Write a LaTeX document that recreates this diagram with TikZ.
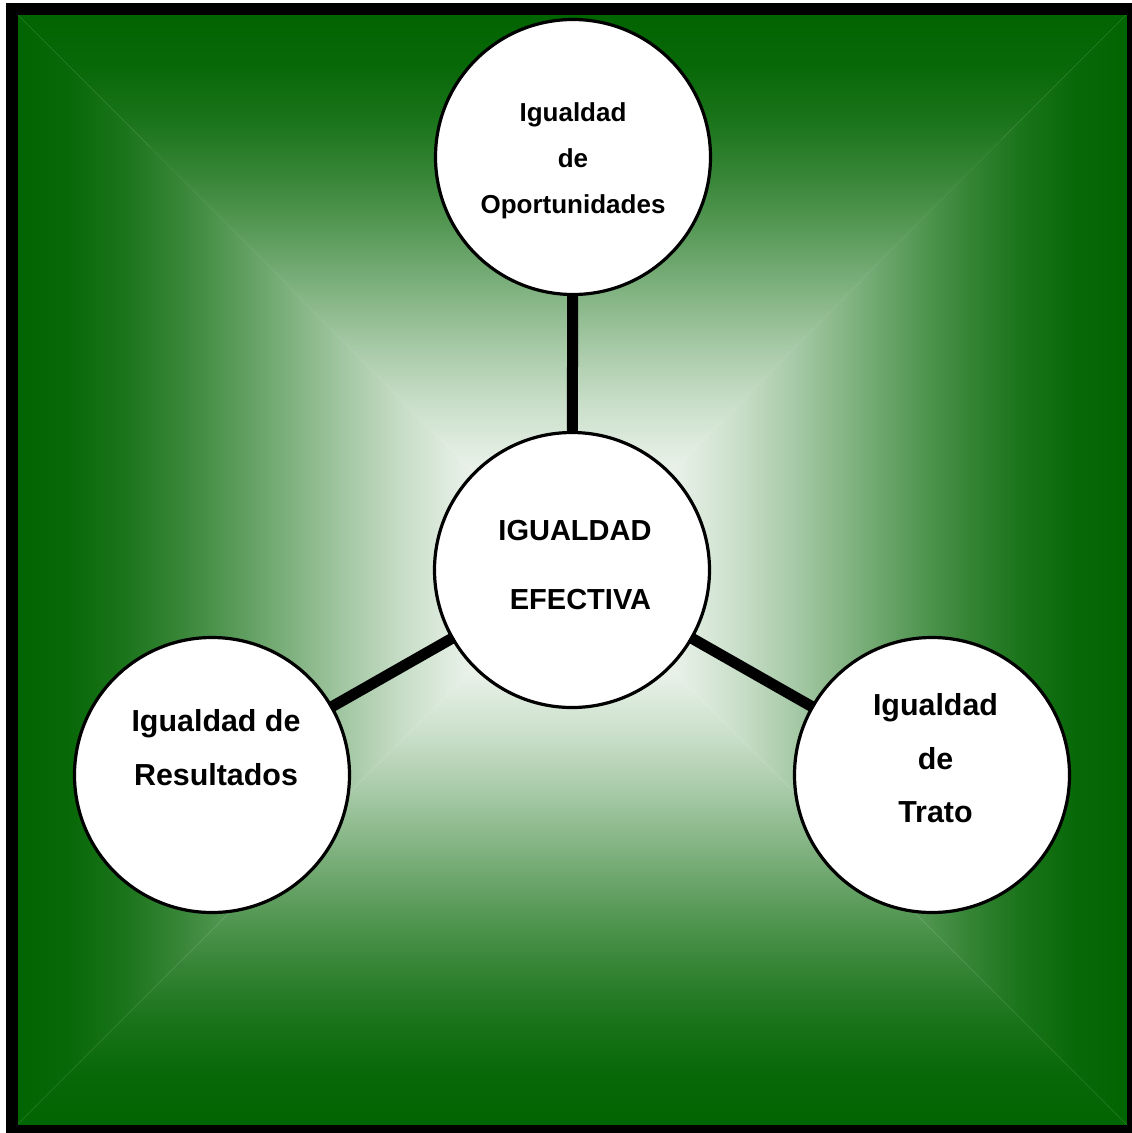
\documentclass[tikz,border=0pt]{standalone}
\usepackage{fontspec}
\setmainfont{Liberation Sans}
\definecolor{bgGreen}{RGB}{0,100,0}
% soft fade from white (bottom) to green (top)
\pgfdeclareverticalshading{bgfade}{100bp}{color(0bp)=(white); color(25bp)=(white);
  color(30bp)=(bgGreen!2.8!white); color(35bp)=(bgGreen!10.4!white);
  color(40bp)=(bgGreen!21.6!white); color(45bp)=(bgGreen!35.2!white);
  color(50bp)=(bgGreen!50!white); color(55bp)=(bgGreen!64.8!white);
  color(60bp)=(bgGreen!78.4!white); color(65bp)=(bgGreen!89.6!white);
  color(70bp)=(bgGreen!97.2!white); color(75bp)=(bgGreen); color(100bp)=(bgGreen)}

\begin{document}
\begin{tikzpicture}[x=1pt,y=-1pt,
  circ/.style={circle,draw=black,line width=3.2pt,fill=white,minimum size=275pt,inner sep=0pt},
  txt/.style={align=center},
  link/.style={line width=11pt,shorten <=-3pt,shorten >=-3pt}]
\useasboundingbox (0,0) rectangle (1132,1133);

% background, shaded from the frame towards the middle
\coordinate (mid) at (572,570);
\shade[shading=bgfade,shading angle=0] (11,8) -- (1133,8) -- (mid) -- cycle;
\shade[shading=bgfade,shading angle=180] (11,1131) -- (1133,1131) -- (mid) -- cycle;
\shade[shading=bgfade,shading angle=90] (11,8) -- (11,1131) -- (mid) -- cycle;
\shade[shading=bgfade,shading angle=270] (1133,8) -- (1133,1131) -- (mid) -- cycle;
\draw[line width=12pt] (11.5,8.5) rectangle (1133,1131);

\node[circ] (opor) at (573,157) {};
\node[circ] (efec) at (572,570) {};
\node[circ] (resu) at (212,775) {};
\node[circ] (trat) at (932,775) {};

\draw[link] (efec) -- (opor);
\draw[link] (efec) -- (resu);
\draw[link] (efec) -- (trat);

\node[txt,font=\bfseries\fontsize{26pt}{46pt}\selectfont] (oporT) at ([yshift=-4pt]opor.center) {Igualdad\\de\\Oportunidades};
\node[txt,font=\bfseries\fontsize{29pt}{69pt}\selectfont] (efecT) at ([xshift=3pt,yshift=4.5pt]efec.center) {IGUALDAD\\\hspace*{11pt}EFECTIVA};
\node[txt,font=\bfseries\fontsize{30.4pt}{54pt}\selectfont] (resuT) at ([xshift=4pt,yshift=27pt]resu.center) {Igualdad de\\Resultados};
\node[txt,font=\bfseries\fontsize{30.4pt}{53.5pt}\selectfont] (tratT) at ([xshift=3.5pt,yshift=16.5pt]trat.center) {Igualdad\\de\\Trato};

\end{tikzpicture}
\end{document}
